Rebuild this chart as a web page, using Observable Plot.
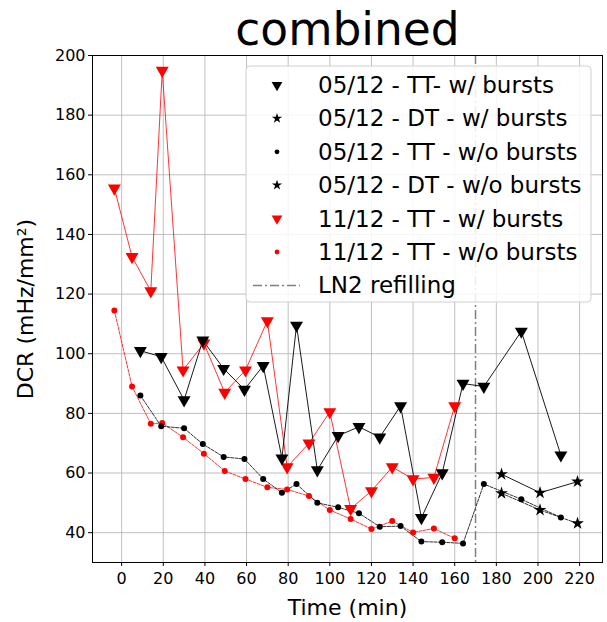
<!DOCTYPE html>
<html><head><meta charset="utf-8">
<script src="https://cdn.jsdelivr.net/npm/d3@7"></script>
<script src="https://cdn.jsdelivr.net/npm/@observablehq/plot@0.6"></script>
<style>body{margin:0;background:#fff;} svg{font-family:"DejaVu Sans";}</style>
</head><body><div id="chart"></div>
<script>
// 05/12 TT (with / without bursts) share measurement times
const t0512TT = [9, 19, 30, 39, 49, 59, 68, 77, 84, 94, 104, 114, 124, 134, 144, 154, 164, 174, 192, 211];
const v0512TTwith = [101, 99, 84.5, 104.5, 95, 88, 96, 65, 109.5, 61, 72.5, 75.5, 72, 82.5, 45, 60, 90, 89, 107.5, 66];
const v0512TTwithout = [86, 75.7, 75, 69.7, 65.4, 64.7, 58, 53.4, 56.3, 50, 48.5, 46.5, 42, 42.2, 37, 36.8, 36.4, 56.3, 51.2, 45.1];
// 05/12 DT
const t0512DT = [182.5, 201, 219];
const v0512DTwith = [59.6, 53.4, 57.1];
const v0512DTwithout = [53.2, 47.6, 43.1];
// 11/12 TT
const t1112TT = [-3.5, 5, 14, 19.5, 29.5, 39.5, 49.5, 59.5, 70, 79.5, 90, 100, 110, 120, 130, 140, 150, 160];
const v1112TTwith = [155.5, 132.5, 121, 195, 94.5, 103.5, 87, 94.5, 111, 62, 70, 80.5, 48, 54, 62, 58, 58.5, 82.5];
const v1112TTwithout = [114.5, 89, 76.5, 76.8, 72, 66.5, 60.7, 58, 55.2, 54.5, 52.3, 47.6, 44.6, 41.2, 43.9, 40.1, 41.4, 38.1];
const ln2Refill = [170];

const xTicks = [0, 20, 40, 60, 80, 100, 120, 140, 160, 180, 200, 220];
const yTicks = [40, 60, 80, 100, 120, 140, 160, 180, 200];

const legendLabels = [
  "05/12 - TT- w/ bursts",
  "05/12 - DT - w/ bursts",
  "05/12 - TT - w/o bursts",
  "05/12 - DT - w/o bursts",
  "11/12 - TT - w/ bursts",
  "11/12 - TT - w/o bursts",
  "LN2 refilling"
];

const toRows = (ts, vs) => ts.map((t, i) => ({t, v: vs[i]}));
const A = toRows(t0512TT, v0512TTwith);
const B = toRows(t0512TT, v0512TTwithout);
const C = toRows(t0512DT, v0512DTwith);
const D = toRows(t0512DT, v0512DTwithout);
const E = toRows(t1112TT, v1112TTwith);
const F = toRows(t1112TT, v1112TTwithout);

const dash = "3,1.3";
const plot = Plot.plot({
  width: 607, height: 622,
  marginLeft: 92, marginRight: 5, marginTop: 55, marginBottom: 60,
  style: {fontFamily: "DejaVu Sans", fontSize: "16px", color: "#000", background: "#fff"},
  x: {domain: [-14, 231]},
  y: {domain: [30, 200]},
  marks: [
    Plot.gridX(xTicks, {stroke: "#b0b0b0", strokeOpacity: 1, strokeWidth: 0.8}),
    Plot.gridY(yTicks, {stroke: "#b0b0b0", strokeOpacity: 1, strokeWidth: 0.8}),
    Plot.axisX(xTicks, {tickSize: 4, tickPadding: 6, fontSize: 16, label: null}),
    Plot.axisY(yTicks, {tickSize: 4, tickPadding: 3, fontSize: 16, label: null}),
    Plot.ruleX(ln2Refill, {stroke: "gray", strokeWidth: 1.5, strokeDasharray: "9,3,2,3"}),
    Plot.line(F, {x: "t", y: "v", stroke: "red", strokeWidth: 0.8, strokeDasharray: dash}),
    Plot.line(B, {x: "t", y: "v", stroke: "black", strokeWidth: 0.8, strokeDasharray: dash}),
    Plot.line(D, {x: "t", y: "v", stroke: "black", strokeWidth: 0.8, strokeDasharray: dash}),
    Plot.line(C, {x: "t", y: "v", stroke: "black", strokeWidth: 0.9}),
    Plot.line(E, {x: "t", y: "v", stroke: "red", strokeWidth: 0.8}),
    Plot.line(A, {x: "t", y: "v", stroke: "black", strokeWidth: 0.9}),
    Plot.dot(F, {x: "t", y: "v", fill: "red", r: 3}),
    Plot.dot(B, {x: "t", y: "v", fill: "black", r: 3}),
    Plot.dot(D, {x: "t", y: "v", fill: "black", symbol: "star", r: 4}),
    Plot.dot(C, {x: "t", y: "v", fill: "black", symbol: "star", r: 4}),
    Plot.dot(E, {x: "t", y: "v", fill: "red", symbol: "triangle", rotate: 180, r: 4.8}),
    Plot.dot(A, {x: "t", y: "v", fill: "black", symbol: "triangle", rotate: 180, r: 4.8}),
    Plot.frame({stroke: "black", strokeWidth: 1}),
    Plot.text(["combined"], {frameAnchor: "top", lineAnchor: "middle", textAnchor: "middle", dy: -25, fontSize: 45.5, fill: "black"}),
    Plot.text(["Time (min)"], {frameAnchor: "bottom", lineAnchor: "middle", textAnchor: "middle", dy: 45, fontSize: 22, fill: "black"}),
    Plot.text(["DCR (mHz/mm²)"], {frameAnchor: "left", lineAnchor: "middle", textAnchor: "middle", dx: -67, rotate: -90, fontSize: 22, fill: "black"})
  ]
});
document.getElementById("chart").appendChild(plot);

// Legend
const svg = d3.select(plot);
const g = svg.append("g").attr("text-anchor", "start");
g.append("rect").attr("x", 246).attr("y", 66).attr("width", 345).attr("height", 236)
  .attr("rx", 4).attr("fill", "white").attr("fill-opacity", 0.85).attr("stroke", "#d0d0d0");
const rowY = i => 85 + i * 33.4;
const sym = [
  {type: d3.symbolTriangle, size: 50, fill: "black", rot: 180},
  {type: d3.symbolStar, size: 32, fill: "black", rot: 0},
  {type: d3.symbolCircle, size: 18, fill: "black", rot: 0},
  {type: d3.symbolStar, size: 32, fill: "black", rot: 0},
  {type: d3.symbolTriangle, size: 50, fill: "red", rot: 180},
  {type: d3.symbolCircle, size: 18, fill: "red", rot: 0}
];
sym.forEach((s, i) => {
  g.append("path").attr("d", d3.symbol(s.type, s.size)())
    .attr("transform", `translate(277,${rowY(i)}) rotate(${s.rot})`).attr("fill", s.fill);
});
g.append("line").attr("x1", 253).attr("x2", 300).attr("y1", rowY(6)).attr("y2", rowY(6))
  .attr("stroke", "gray").attr("stroke-width", 1.5).attr("stroke-dasharray", "9,3,2,3");
legendLabels.forEach((l, i) => {
  g.append("text").attr("x", 318).attr("y", rowY(i)).attr("dy", "0.35em")
    .attr("text-anchor", "start").attr("font-size", 23).attr("fill", "#000").text(l);
});
</script>
</body></html>
